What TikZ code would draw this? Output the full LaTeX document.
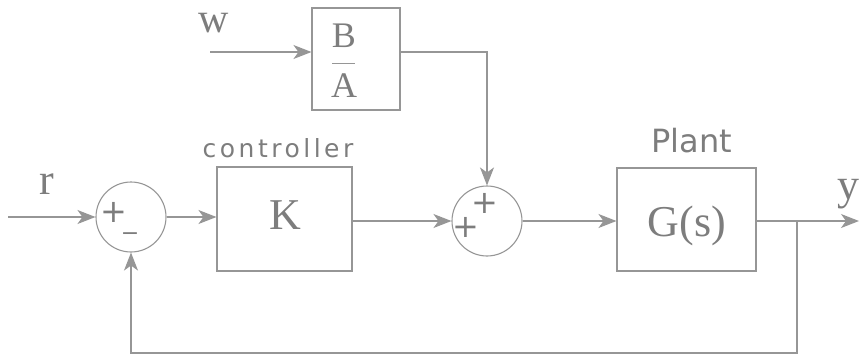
\documentclass[tikz,border=0pt]{standalone}
\usepackage{fontspec}
\setmainfont{Liberation Serif}
\newfontfamily\spacedsans[LetterSpace=14]{DejaVu Sans}
\newfontfamily\plainsans{DejaVu Sans}
\usetikzlibrary{arrows.meta}
\definecolor{ln}{RGB}{150,150,150}
\definecolor{tx}{RGB}{125,125,125}
\begin{document}
\begin{tikzpicture}[x=1pt,y=-1pt,
  wire/.style={draw=ln, line width=1.3pt},
  arr/.style={wire, -{Stealth[length=18pt,width=14pt,inset=5pt]}},
  blockbox/.style={draw=ln, line width=1.1pt, inner sep=0pt},
  sumnode/.style={circle, draw=ln, line width=1.1pt, minimum size=70pt, inner sep=0pt},
  serifbig/.style={text=tx, font=\fontsize{44}{48}\selectfont, inner sep=0pt},
  serifmid/.style={text=tx, font=\fontsize{36}{40}\selectfont, inner sep=0pt},
  signtext/.style={text=tx, font=\plainsans\fontsize{32}{34}\selectfont, inner sep=0pt},
  minustext/.style={text=tx, font=\plainsans\fontsize{22}{24}\selectfont, inner sep=0pt},
  blocklabel/.style={text=tx, inner sep=0pt}
]
\useasboundingbox (0,0) rectangle (861,357);

% blocks
\node[blockbox, minimum width=88pt, minimum height=102pt] (ba) at (356,59) {};
\node[blockbox, minimum width=135pt, minimum height=104pt] (kbox) at (284.5,219) {};
\node[blockbox, minimum width=139pt, minimum height=103pt] (plant) at (686.5,219.5) {};
\node[sumnode] (sum1) at (131,217) {};
\node[sumnode] (sum2) at (487,221) {};

% block texts
\node[serifmid] (bnum) at (344,36) {B};
\node[serifmid] (aden) at (344,86) {A};
\draw[wire, line width=1pt] (332,63) -- (355,63);
\node[serifbig] (ktext) at (285,215) {K};
\node[serifbig] (gtext) at (687,226) {G(s)};

% labels
\node[blocklabel, font=\spacedsans\fontsize{25}{28}\selectfont] (ctrl) at (278,148) {controller};
\node[blocklabel, font=\plainsans\fontsize{32}{34}\selectfont] (plantlbl) at (692,141) {Plant};
\node[serifbig, font=\fontsize{42}{46}\selectfont] (wlbl) at (214,23) {w};
\node[serifbig] (rlbl) at (47,184) {r};
\node[serifbig] (ylbl) at (848,194) {y};

% signs
\node[signtext] (p1) at (114,212) {+};
\node[minustext] (m1) at (130,237) {−};
\node[signtext] (p2) at (485,203) {+};
\node[signtext] (p3) at (466,227) {+};

% connectors
\coordinate (wstart) at (210,52);
\coordinate (rstart) at (8,217);
\coordinate (yend) at (859,221);
\coordinate (branch) at (797,221);
\coordinate (fbcorner) at (797,353);

\draw[arr] (wstart) -- (wstart -| ba.west);
\draw[arr] (wstart -| ba.east) -| (sum2.north);
\draw[arr] (rstart) -- (sum1.west);
\draw[arr] (sum1.east) -- (sum1.east -| kbox.west);
\draw[arr] (kbox.east |- sum2.west) -- (sum2.west);
\draw[arr] (sum2.east) -- (sum2.east -| plant.west);
\draw[arr] (yend -| plant.east) -- (yend);
\draw[arr] (branch) -- (fbcorner) -| (sum1.south);
\end{tikzpicture}
\end{document}
